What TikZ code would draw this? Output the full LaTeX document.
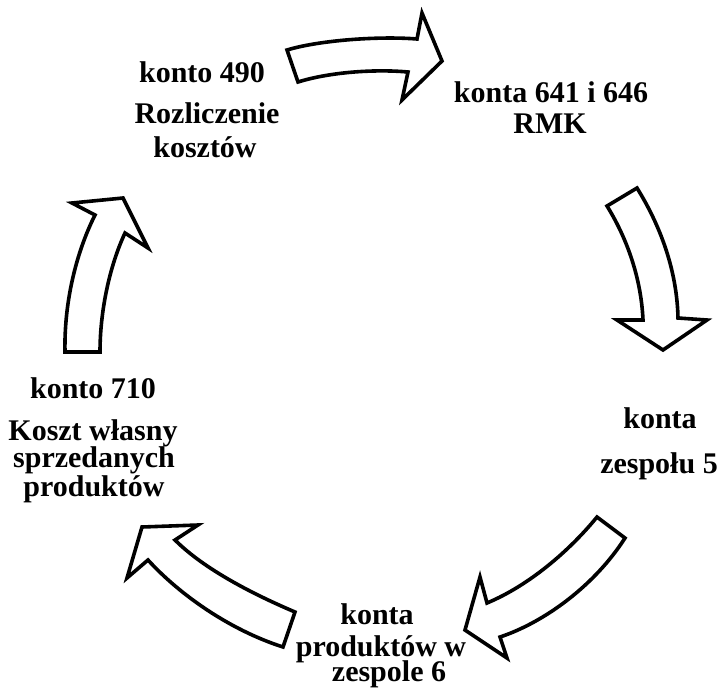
\documentclass[tikz,border=0pt]{standalone}
\usepackage{fontspec}
\setmainfont{Liberation Serif}
\begin{document}
\begin{tikzpicture}[x=1pt,y=-1pt,
  cyc/.style={draw=black,fill=white,line width=3.6pt,line join=miter},
  lbl/.style={font=\fontsize{30}{32}\selectfont\bfseries,anchor=base,inner sep=0pt}]
\useasboundingbox (0,0) rectangle (720,689);
% labels
\node[lbl] (a1) at (202,82) {konto 490};
\node[lbl] (a2) at (207,123) {Rozliczenie};
\node[lbl] (a3) at (205,157) {kosztów};
\node[lbl] (b1) at (551,102) {konta 641 i 646};
\node[lbl] (b2) at (550,133) {RMK};
\node[lbl] (c1) at (660,428) {konta};
\node[lbl] (c2) at (659,473) {zespołu 5};
\node[lbl] (d1) at (377,624) {konta};
\node[lbl] (d2) at (381,656) {produktów w};
\node[lbl] (d3) at (389,681) {zespole 6};
\node[lbl] (e1) at (93,398) {konto 710};
\node[lbl] (e2) at (93,440) {Koszt własny};
\node[lbl] (e3) at (94,467) {sprzedanych};
\node[lbl] (e4) at (94,496) {produktów};
% arrows
\draw[cyc] (287,50) .. controls (320,40) and (380,36) .. (417,39)
  -- (422,13) -- (442,61) -- (402,100) -- (408,72)
  .. controls (375,69) and (330,72) .. (298,82) -- cycle;
\draw[cyc] (607,206) .. controls (625,235) and (641,275) .. (643,320)
  -- (617,320) -- (663,350) -- (707,320) -- (678,318)
  .. controls (677,270) and (660,225) .. (637,188) -- cycle;
\draw[cyc] (597,517) .. controls (570,550) and (530,585) .. (487,603)
  -- (480,577) -- (465,630) -- (507,658) -- (500,637)
  .. controls (545,622) and (595,585) .. (625,538) -- cycle;
\draw[cyc] (295,612) .. controls (255,595) and (205,570) .. (175,540)
  -- (198,525) -- (142,527) -- (127,578) -- (148,560)
  .. controls (180,595) and (230,630) .. (283,647) -- cycle;
\draw[cyc] (65,352) .. controls (64,305) and (75,255) .. (95,215)
  -- (72,203) -- (123,198) -- (148,248) -- (125,233)
  .. controls (110,265) and (100,310) .. (100,352) -- cycle;
\end{tikzpicture}
\end{document}
